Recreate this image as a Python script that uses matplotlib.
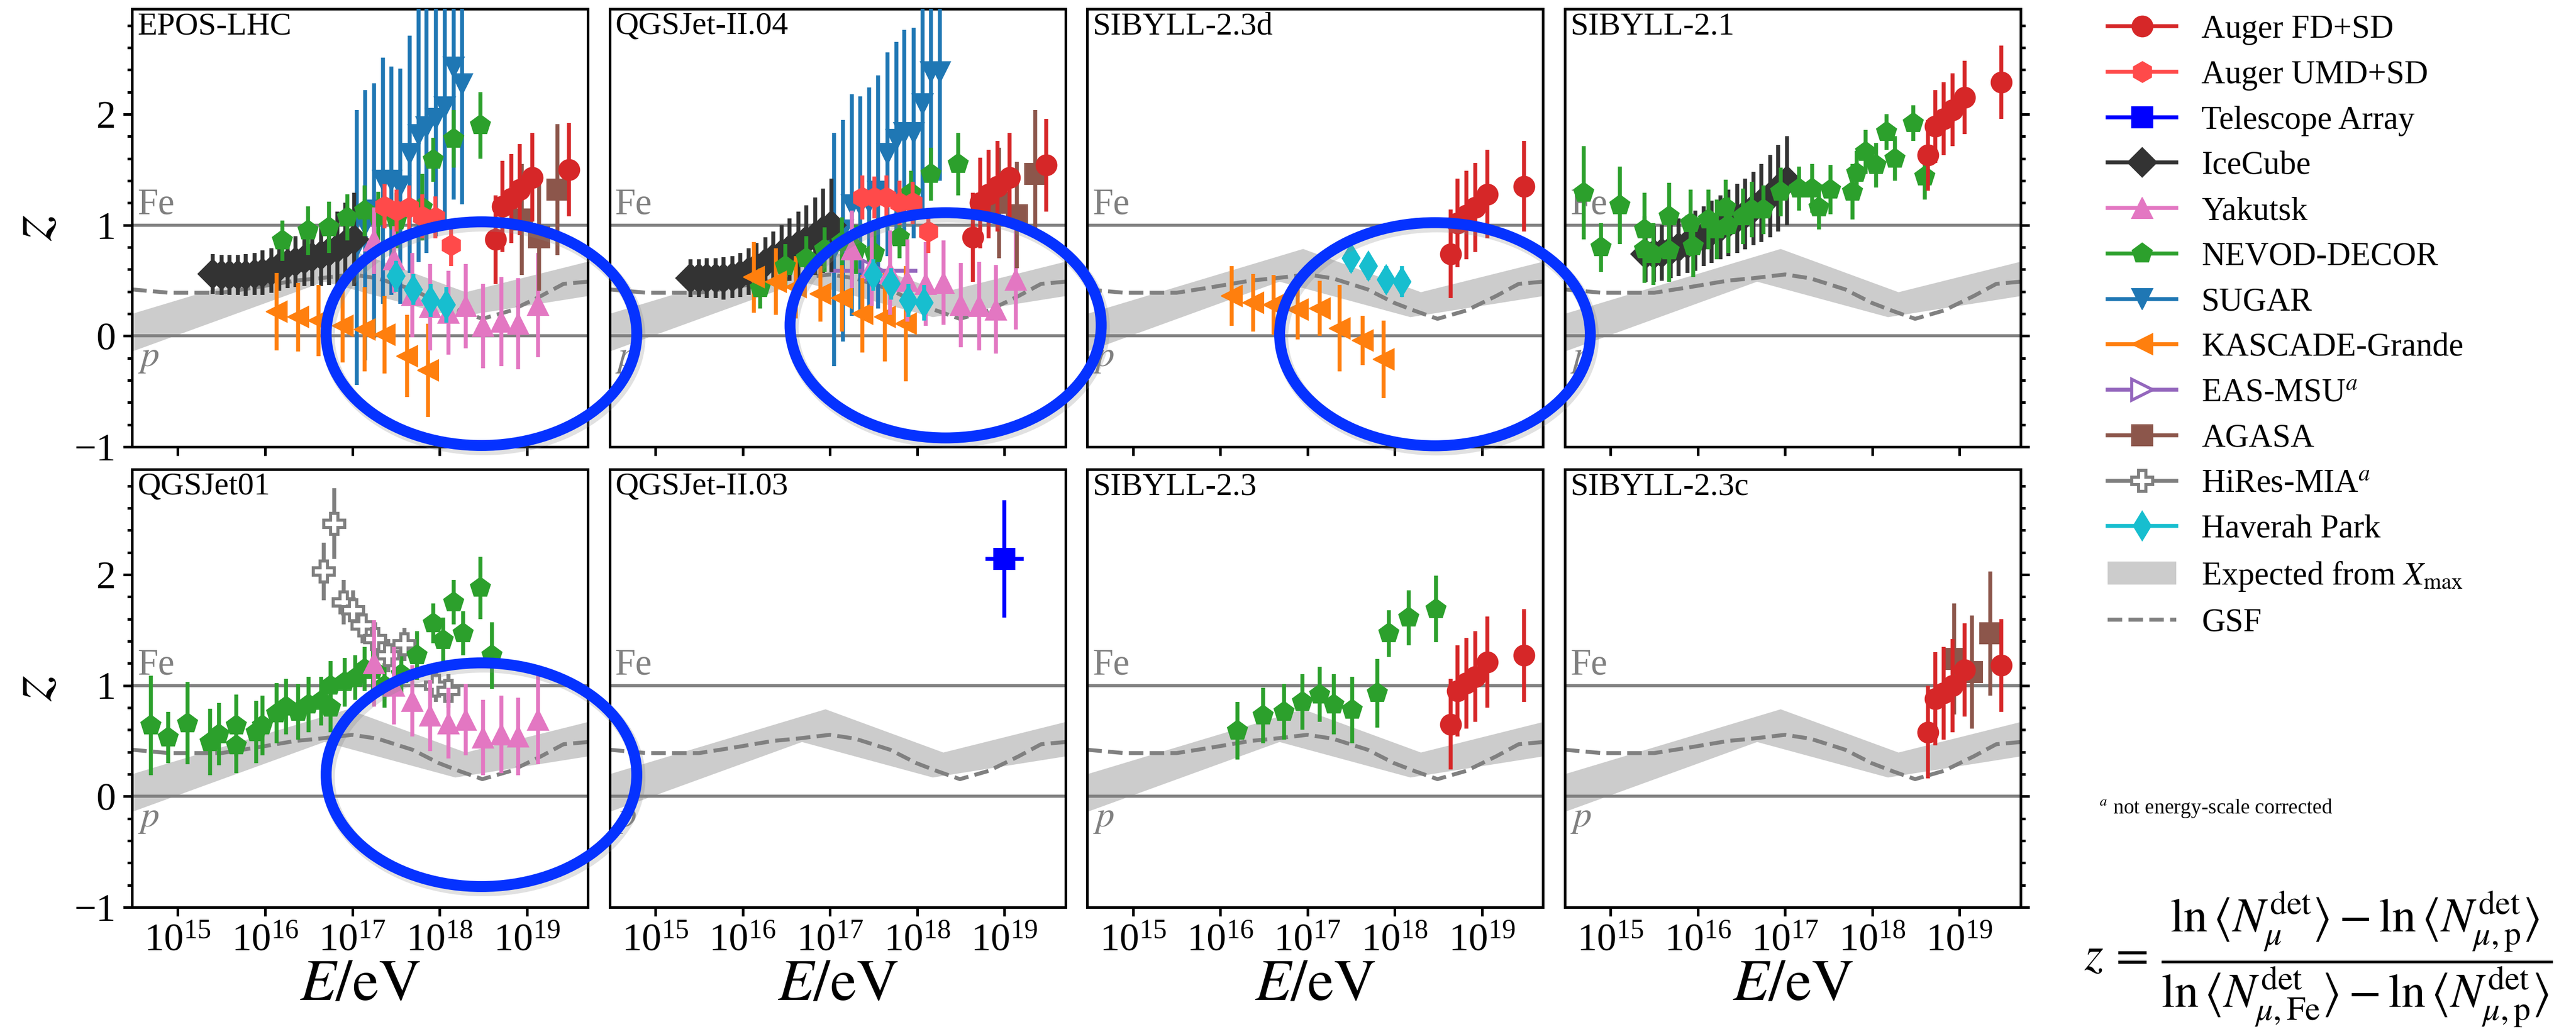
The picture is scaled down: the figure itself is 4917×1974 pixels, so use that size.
import numpy as np
import matplotlib
matplotlib.use("Agg")
import matplotlib.pyplot as plt
import matplotlib.ticker as mticker
import matplotlib.transforms as mtransforms
from matplotlib.lines import Line2D
from matplotlib.patches import Patch, Ellipse

plt.rcParams['font.family'] = 'serif'
plt.rcParams['font.serif'] = ['Liberation Serif', 'DejaVu Serif']
plt.rcParams['mathtext.fontset'] = 'stix'

# ---- shared curves (log10 E, z) ----
band_up_logE = [14.477, 16.95, 18.30, 19.70]
band_up_z = [0.20, 0.785, 0.395, 0.67]
band_lo_logE = [14.477, 16.68, 18.18, 19.70]
band_lo_z = [-0.14, 0.49, 0.17, 0.36]

gsf_logE = [14.477, 14.9, 15.5, 15.9, 16.35, 16.62, 17.0, 17.29, 17.69, 17.99, 18.22, 18.49, 18.82, 19.16, 19.42, 19.7]
gsf_z = [0.42, 0.39, 0.39, 0.44, 0.50, 0.52, 0.555, 0.52, 0.42, 0.30, 0.23, 0.155, 0.23, 0.36, 0.47, 0.49]

# ---- energies per experiment (log10 E/eV) ----
auger_fd_E = [18.64, 18.72, 18.82, 18.92, 19.06, 19.48]
auger_umd_E = [17.37, 17.51, 17.65, 17.80, 17.95, 18.13]
icecube_E = [15.40, 15.50, 15.59, 15.69, 15.78, 15.88, 15.97, 16.07, 16.16,
             16.26, 16.35, 16.45, 16.54, 16.64, 16.73, 16.83, 16.92, 17.02]
nevod_E = [16.20, 16.49, 16.73, 16.94, 17.14, 17.30, 17.51, 17.80, 17.93, 18.16, 18.47]
sugar_E = [17.05, 17.15, 17.25, 17.35, 17.45, 17.55, 17.66, 17.76, 17.85, 17.96, 18.06, 18.16, 18.26]
kascade_E = [16.13, 16.38, 16.61, 16.89, 17.14, 17.37, 17.63, 17.87]
yakutsk_E = [17.25, 17.48, 17.69, 17.89, 18.10, 18.30, 18.50, 18.71, 18.90, 19.13]
haverah_E = [17.50, 17.70, 17.90, 18.08]
agasa_E = [18.94, 19.14, 19.35]

# ---- EPOS-LHC ----
epos_auger_fd = (auger_fd_E, [0.87, 1.17, 1.24, 1.32, 1.43, 1.50], [0.40, 0.41, 0.40, 0.41, 0.40, 0.42])
epos_auger_umd = (auger_umd_E, [1.17, 1.13, 1.16, 1.08, 1.07, 0.82], [0.20, 0.19, 0.20, 0.20, 0.19, 0.19])
epos_icecube = (icecube_E,
                [0.56, 0.55, 0.55, 0.55, 0.55, 0.56, 0.57, 0.59, 0.62, 0.65, 0.67, 0.69, 0.71, 0.73, 0.76, 0.79, 0.83, 0.87],
                [0.18, 0.18, 0.18, 0.18, 0.19, 0.19, 0.20, 0.20, 0.21, 0.22, 0.23, 0.24, 0.26, 0.28, 0.30, 0.33, 0.37, 0.42])
epos_nevod = (nevod_E, [0.86, 0.95, 0.98, 1.07, 1.13, 1.08, 1.04, 1.16, 1.59, 1.78, 1.90],
              [0.18, 0.22, 0.23, 0.21, 0.23, 0.22, 0.25, 0.30, 0.20, 0.26, 0.30])
epos_sugar = (sugar_E, [0.80, 1.00, 1.13, 1.40, 1.40, 1.35, 1.64, 1.81, 1.88, 1.96, 2.06, 2.42, 2.27],
              [1.24, 1.22, 1.15, 1.11, 1.03, 1.06, 1.07, 1.14, 1.13, 1.06, 1.01, 1.19, 1.08])
epos_kascade = (kascade_E, [0.22, 0.17, 0.14, 0.09, 0.06, 0.01, -0.18, -0.31],
                [0.35, 0.31, 0.32, 0.33, 0.38, 0.35, 0.37, 0.42])
epos_yakutsk = (yakutsk_E, [0.86, 0.69, 0.37, 0.26, 0.21, 0.27, 0.09, 0.13, 0.11, 0.28],
                [0.30, 0.30, 0.38, 0.39, 0.38, 0.38, 0.38, 0.40, 0.41, 0.47])
epos_haverah = (haverah_E, [0.54, 0.42, 0.32, 0.28], [0.14, 0.14, 0.15, 0.16])
epos_agasa = (agasa_E, [1.05, 0.89, 1.32], [0.50, 0.48, 0.59])

# ---- QGSJet-II.04 ----
q204_auger_fd = (auger_fd_E, [0.89, 1.20, 1.28, 1.35, 1.43, 1.54], [0.40, 0.41, 0.40, 0.41, 0.40, 0.42])
q204_auger_umd = (auger_umd_E, [1.25, 1.25, 1.25, 1.20, 1.20, 0.94], [0.20, 0.19, 0.20, 0.20, 0.19, 0.19])
q204_icecube = (icecube_E,
                [0.52, 0.52, 0.52, 0.52, 0.52, 0.53, 0.55, 0.58, 0.62, 0.66, 0.70, 0.74, 0.78, 0.82, 0.86, 0.90, 0.95, 1.00],
                [0.17, 0.17, 0.18, 0.18, 0.19, 0.19, 0.20, 0.21, 0.22, 0.23, 0.24, 0.26, 0.28, 0.30, 0.32, 0.35, 0.38, 0.42])
q204_nevod = (nevod_E, [0.43, 0.63, 0.70, 0.78, 0.85, 0.78, 0.75, 0.89, 1.29, 1.46, 1.55],
              [0.18, 0.20, 0.20, 0.20, 0.22, 0.22, 0.25, 0.19, 0.20, 0.24, 0.28])
q204_sugar = (sugar_E, [0.78, 0.95, 1.18, 1.18, 1.20, 1.30, 1.64, 1.77, 1.83, 1.83, 2.09, 2.38, 2.38],
              [1.05, 1.00, 1.00, 0.98, 1.04, 1.05, 0.92, 0.88, 0.93, 0.95, 1.00, 1.00, 0.98])
q204_kascade = (kascade_E, [0.53, 0.49, 0.44, 0.38, 0.34, 0.20, 0.17, 0.11],
                [0.32, 0.30, 0.28, 0.25, 0.30, 0.35, 0.40, 0.52])
q204_yakutsk = (yakutsk_E, [0.78, 0.62, 0.57, 0.50, 0.47, 0.48, 0.28, 0.27, 0.24, 0.51],
                [0.35, 0.35, 0.38, 0.37, 0.38, 0.38, 0.38, 0.40, 0.40, 0.45])
q204_haverah = (haverah_E, [0.55, 0.47, 0.32, 0.30], [0.14, 0.14, 0.15, 0.16])
q204_agasa = (agasa_E, [1.20, 1.09, 1.46], [0.50, 0.48, 0.58])
q204_eas_msu = ([17.5], [0.59], [0.10])

# ---- SIBYLL-2.3d ----
s23d_auger_fd = (auger_fd_E, [0.74, 1.02, 1.09, 1.16, 1.28, 1.35], [0.40, 0.40, 0.40, 0.40, 0.40, 0.41])
s23d_kascade = (kascade_E, [0.36, 0.30, 0.28, 0.24, 0.25, 0.07, -0.04, -0.21],
                [0.27, 0.26, 0.27, 0.27, 0.25, 0.39, 0.22, 0.35])
s23d_haverah = (haverah_E, [0.70, 0.63, 0.51, 0.49], [0.12, 0.12, 0.12, 0.14])

# ---- SIBYLL-2.1 ----
s21_nevod = ([14.69, 14.89, 15.11, 15.39, 15.39, 15.49, 15.67, 15.67, 15.92, 15.95, 16.12, 16.22, 16.32, 16.35, 16.52,
              16.62, 16.75, 16.95, 17.16, 17.31, 17.39, 17.52, 17.77, 17.82, 17.92, 18.04, 18.16, 18.26, 18.47, 18.60],
             [1.29, 0.80, 1.18, 0.96, 0.78, 0.74, 1.08, 0.77, 1.02, 0.81, 1.05, 0.96, 1.16, 1.00, 1.08,
              1.14, 1.14, 1.30, 1.33, 1.33, 1.16, 1.32, 1.30, 1.47, 1.66, 1.54, 1.84, 1.60, 1.92, 1.44],
             [0.42, 0.22, 0.35, 0.33, 0.30, 0.28, 0.30, 0.28, 0.30, 0.28, 0.27, 0.27, 0.25, 0.25, 0.25,
              0.25, 0.22, 0.22, 0.20, 0.22, 0.20, 0.22, 0.25, 0.20, 0.20, 0.20, 0.16, 0.20, 0.16, 0.21])
s21_icecube = (icecube_E,
               [0.74, 0.74, 0.75, 0.77, 0.80, 0.83, 0.86, 0.90, 0.94, 0.98, 1.02, 1.06, 1.10, 1.15, 1.20, 1.26, 1.33, 1.40],
               [0.25, 0.25, 0.25, 0.25, 0.26, 0.26, 0.27, 0.27, 0.28, 0.29, 0.30, 0.31, 0.32, 0.33, 0.35, 0.37, 0.39, 0.40])
s21_auger_fd = (auger_fd_E, [1.63, 1.89, 1.96, 2.04, 2.15, 2.29], [0.32, 0.33, 0.33, 0.33, 0.33, 0.33])

# ---- QGSJet01 ----
q01_nevod = ([14.69, 14.89, 15.11, 15.37, 15.47, 15.67, 15.67, 15.90, 15.97, 16.13, 16.24, 16.38, 16.50, 16.64, 16.75,
              16.75, 16.91, 17.03, 17.14, 17.24, 17.37, 17.56, 17.74, 17.93, 18.04, 18.16, 18.27, 18.47, 18.60],
             [0.64, 0.53, 0.66, 0.49, 0.56, 0.64, 0.46, 0.58, 0.64, 0.75, 0.81, 0.76, 0.83, 0.86, 0.80,
              1.00, 1.03, 1.07, 1.15, 1.14, 1.00, 1.10, 1.27, 1.56, 1.41, 1.75, 1.47, 1.88, 1.27],
             [0.45, 0.23, 0.37, 0.30, 0.28, 0.28, 0.25, 0.28, 0.27, 0.27, 0.25, 0.25, 0.25, 0.22, 0.22,
              0.22, 0.22, 0.20, 0.20, 0.20, 0.20, 0.20, 0.22, 0.18, 0.20, 0.20, 0.20, 0.28, 0.30])
q01_hires = ([16.67, 16.79, 16.90, 17.01, 17.12, 17.26, 17.41, 17.60, 17.96, 18.10],
             [2.03, 2.46, 1.75, 1.68, 1.54, 1.42, 1.27, 1.37, 1.00, 0.95],
             [0.26, 0.32, 0.20, 0.18, 0.16, 0.15, 0.15, 0.15, 0.15, 0.15])
q01_yakutsk = (yakutsk_E, [1.20, 1.00, 0.86, 0.73, 0.66, 0.69, 0.53, 0.56, 0.54, 0.69],
               [0.39, 0.35, 0.32, 0.32, 0.32, 0.32, 0.34, 0.35, 0.35, 0.40])

# ---- QGSJet-II.03 ----
q203_ta = ([19.0], [2.14], [0.53])

# ---- SIBYLL-2.3 ----
s23_nevod = (nevod_E, [0.59, 0.73, 0.76, 0.85, 0.92, 0.83, 0.78, 0.93, 1.47, 1.61, 1.69],
             [0.26, 0.25, 0.25, 0.25, 0.25, 0.27, 0.30, 0.31, 0.21, 0.25, 0.30])
s23_auger_fd = (auger_fd_E, [0.65, 0.95, 1.02, 1.08, 1.21, 1.27], [0.41, 0.41, 0.41, 0.41, 0.41, 0.42])

# ---- SIBYLL-2.3c ----
s23c_auger_fd = (auger_fd_E, [0.58, 0.88, 0.93, 1.00, 1.14, 1.18], [0.42, 0.42, 0.42, 0.42, 0.42, 0.42])
s23c_agasa = (agasa_E, [1.24, 1.12, 1.47], [0.50, 0.51, 0.56])

# x errors in log10 E (half width) for the two points that have them
eas_msu_dlogE = 0.5
ta_dlogE = 0.22

panels = [
    ('EPOS-LHC', {'sugar': epos_sugar, 'icecube': epos_icecube, 'nevod': epos_nevod, 'kascade': epos_kascade,
                  'yakutsk': epos_yakutsk, 'haverah': epos_haverah, 'agasa': epos_agasa,
                  'auger_umd': epos_auger_umd, 'auger_fd': epos_auger_fd}),
    ('QGSJet-II.04', {'sugar': q204_sugar, 'icecube': q204_icecube, 'nevod': q204_nevod, 'kascade': q204_kascade,
                      'yakutsk': q204_yakutsk, 'eas_msu': q204_eas_msu, 'haverah': q204_haverah,
                      'agasa': q204_agasa, 'auger_umd': q204_auger_umd, 'auger_fd': q204_auger_fd}),
    ('SIBYLL-2.3d', {'kascade': s23d_kascade, 'haverah': s23d_haverah, 'auger_fd': s23d_auger_fd}),
    ('SIBYLL-2.1', {'icecube': s21_icecube, 'nevod': s21_nevod, 'auger_fd': s21_auger_fd}),
    ('QGSJet01', {'hires': q01_hires, 'nevod': q01_nevod, 'yakutsk': q01_yakutsk}),
    ('QGSJet-II.03', {'ta': q203_ta}),
    ('SIBYLL-2.3', {'nevod': s23_nevod, 'auger_fd': s23_auger_fd}),
    ('SIBYLL-2.3c', {'agasa': s23c_agasa, 'auger_fd': s23c_auger_fd}),
]

STYLE = {
    'auger_fd': dict(label='Auger FD+SD', color='#d62728', marker='o', z=3.9),
    'auger_umd': dict(label='Auger UMD+SD', color='#ff4a4a', marker='h', z=3.8),
    'ta': dict(label='Telescope Array', color='#0000ff', marker='s', z=4.0),
    'icecube': dict(label='IceCube', color='#333333', marker='D', z=3.1),
    'yakutsk': dict(label='Yakutsk', color='#e377c2', marker='^', z=3.4),
    'nevod': dict(label='NEVOD-DECOR', color='#2ca02c', marker='p', z=3.2),
    'sugar': dict(label='SUGAR', color='#1f77b4', marker='v', z=3.0),
    'kascade': dict(label='KASCADE-Grande', color='#ff7f0e', marker='<', z=3.3),
    'eas_msu': dict(label='EAS-MSU$^{a}$', color='#9467bd', marker='>', z=3.05, open=True),
    'agasa': dict(label='AGASA', color='#8c564b', marker='s', z=3.7),
    'hires': dict(label='HiRes-MIA$^{a}$', color='#7f7f7f', marker='P', z=3.15, open=True),
    'haverah': dict(label='Haverah Park', color='#17becf', marker='d', z=3.5),
}
ORDER = ['auger_fd', 'auger_umd', 'ta', 'icecube', 'yakutsk', 'nevod', 'sugar',
         'kascade', 'eas_msu', 'agasa', 'hires', 'haverah']

MS = 9.5
ELW = 1.8
GRAY = '#808080'

fig, axes = plt.subplots(2, 4, figsize=(16.39, 6.58), dpi=300, sharex=True, sharey=True)
plt.subplots_adjust(left=0.0513, right=0.7844, top=0.9914, bottom=0.1226, wspace=0.048, hspace=0.051)

band_x = 10 ** np.concatenate([band_up_logE, band_lo_logE[::-1]])
band_y = np.concatenate([band_up_z, band_lo_z[::-1]])

for i, (ax, (title, series)) in enumerate(zip(axes.flat, panels)):
    row, col = divmod(i, 4)
    ax.set_xscale('log')
    ax.fill(band_x, band_y, color='#cccccc', lw=0, zorder=1)
    ax.axhline(0, color=GRAY, lw=1.4, zorder=1.5)
    ax.axhline(1, color=GRAY, lw=1.4, zorder=1.5)
    ax.plot(10 ** np.array(gsf_logE), gsf_z, ls='--', color=GRAY, lw=1.8, zorder=2)

    for key, (logE, z, err) in series.items():
        st = STYLE[key]
        E = 10 ** np.array(logE)
        xerr = None
        if key == 'eas_msu':
            xerr = [E - 10 ** (np.array(logE) - eas_msu_dlogE), 10 ** (np.array(logE) + eas_msu_dlogE) - E]
        if key == 'ta':
            xerr = [E - 10 ** (np.array(logE) - ta_dlogE), 10 ** (np.array(logE) + ta_dlogE) - E]
        mfc = 'white' if st.get('open') else st['color']
        ax.errorbar(E, z, yerr=err, xerr=xerr, fmt=st['marker'], ls='none', color=st['color'],
                    ms=MS, mfc=mfc, mec=st['color'], mew=1.4 if st.get('open') else 0.5,
                    elinewidth=ELW, capsize=0, zorder=st['z'])

    trans = mtransforms.blended_transform_factory(ax.transAxes, ax.transData)
    ax.text(0.012, 0.993, title, transform=ax.transAxes, ha='left', va='top', fontsize=14.8)
    ax.text(0.012, 1.10, 'Fe', transform=trans, ha='left', va='baseline', fontsize=17, color=GRAY)
    ax.text(0.012, -0.04, '$p$', transform=trans, ha='left', va='top', fontsize=17, color=GRAY)

    for s in ax.spines.values():
        s.set_linewidth(1.2)
    ax.tick_params(which='both', direction='out', width=1.2, labelsize=18)
    ax.tick_params(which='major', length=4)
    ax.tick_params(which='minor', length=2.2)

    if col == 0:
        ax.set_ylabel('$z$', fontsize=30, labelpad=4)
    elif col == 3:
        ax.yaxis.tick_right()
        ax.tick_params(axis='y', which='both', labelright=False)
    else:
        ax.tick_params(axis='y', which='both', left=False, right=False)
    if row == 1:
        ax.set_xlabel('$E/\\mathrm{eV}$', fontsize=27, labelpad=0)

ax0 = axes[0, 0]
ax0.set_xlim(10 ** 14.477, 10 ** 19.699)
ax0.set_ylim(-1, 2.95)
ax0.xaxis.set_major_locator(mticker.FixedLocator([1e15, 1e16, 1e17, 1e18, 1e19]))
ax0.xaxis.set_minor_locator(mticker.NullLocator())
ax0.yaxis.set_major_locator(mticker.FixedLocator([-1, 0, 1, 2]))
ax0.yaxis.set_minor_locator(mticker.MultipleLocator(0.2))

# legend
handles, labels = [], []
for key in ORDER:
    st = STYLE[key]
    mfc = 'white' if st.get('open') else st['color']
    handles.append(Line2D([0], [0], color=st['color'], marker=st['marker'], lw=ELW, ms=MS,
                          mfc=mfc, mec=st['color'], mew=1.4 if st.get('open') else 0.5))
    labels.append(st['label'])
handles.append(Patch(facecolor='#cccccc', edgecolor='none'))
labels.append('Expected from $X_\\mathrm{max}$')
handles.append(Line2D([0], [0], color=GRAY, ls='--', lw=1.8))
labels.append('GSF')
fig.legend(handles, labels, loc='upper left', bbox_to_anchor=(4023 / 4917, 1 - 28 / 1974),
           frameon=False, fontsize=15, handlelength=2.1, handletextpad=0.77,
           labelspacing=0.46, borderpad=0, borderaxespad=0)

fig.text(4007 / 4917, 1 - 1543 / 1974, '$^{a}$ not energy-scale corrected', fontsize=9.5,
         ha='left', va='center')
fig.text(3978 / 4917, 1 - 1832 / 1974,
         r'$z\, =\, \dfrac{\ln\langle N_{\mu}^{\mathrm{det}}\rangle - \ln\langle N_{\mu,\mathrm{p}}^{\mathrm{det}}\rangle}'
         r'{\ln\langle N_{\mu,\mathrm{Fe}}^{\mathrm{det}}\rangle - \ln\langle N_{\mu,\mathrm{p}}^{\mathrm{det}}\rangle}$',
         fontsize=22, ha='left', va='center')

# blue annotation ellipses (pixel centres / centre-line sizes in the 4917x1974 frame)
ell_cx = [919, 1805, 2739, 919]
ell_cy = [637, 621, 638, 1479]
ell_w = [593, 594, 593, 593]
ell_h = [427, 430, 426, 427]
W, H = 4917.0, 1974.0
for cx, cy, w, h in zip(ell_cx, ell_cy, ell_w, ell_h):
    shadow = Ellipse((cx / W + 4 / W, 1 - cy / H - 6 / H), w / W, h / H, transform=fig.transFigure,
                     fill=False, ec='#888888', lw=6, alpha=0.25, zorder=5)
    fig.patches.append(shadow)
    ell = Ellipse((cx / W, 1 - cy / H), w / W, h / H, transform=fig.transFigure,
                  fill=False, ec='#0532ff', lw=5, zorder=6)
    fig.patches.append(ell)

fig.savefig('out.png', dpi=300)
